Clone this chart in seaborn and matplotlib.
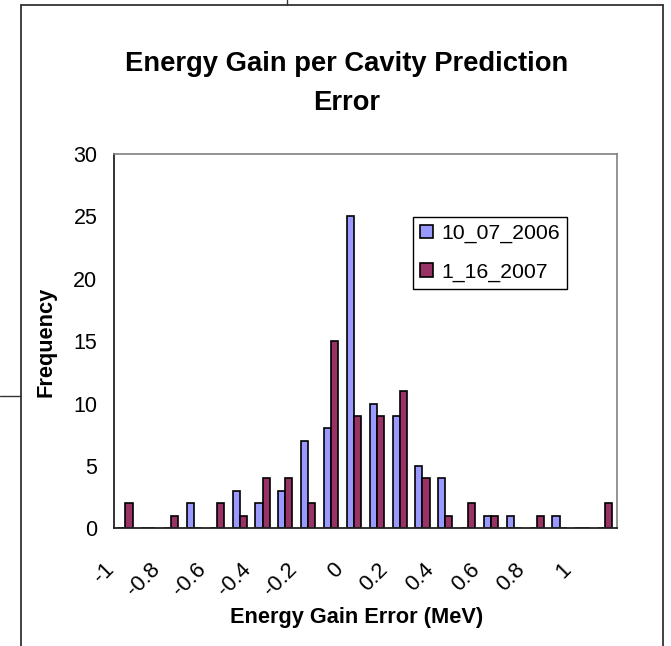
import matplotlib
matplotlib.use("Agg")
import matplotlib.pyplot as plt
from matplotlib.lines import Line2D
from matplotlib.transforms import ScaledTranslation
import seaborn as sns
import pandas as pd

# ---- data ----
bins = ["-1", "-0.9", "-0.8", "-0.7", "-0.6", "-0.5", "-0.4", "-0.3", "-0.2", "-0.1", "0",
        "0.1", "0.2", "0.3", "0.4", "0.5", "0.6", "0.7", "0.8", "0.9", "1", "1.1"]
series_a = [0, 0, 0, 2, 0, 3, 2, 3, 7, 8, 25, 10, 9, 5, 4, 0, 1, 1, 0, 1, 0, 0]
series_b = [2, 0, 1, 0, 2, 1, 4, 4, 2, 15, 9, 9, 11, 4, 1, 2, 1, 0, 1, 0, 0, 2]
series_names = ["10_07_2006", "1_16_2007"]
shown_labels = ["-1", "-0.8", "-0.6", "-0.4", "-0.2", "0", "0.2", "0.4", "0.6", "0.8", "1"]
colors = ["#9999FF", "#993366"]

df = pd.DataFrame({
    "bin": bins * 2,
    "count": series_a + series_b,
    "series": [series_names[0]] * len(bins) + [series_names[1]] * len(bins),
})

sns.set_style("white")
plt.rcParams["font.family"] = ["Liberation Sans", "DejaVu Sans"]
for k in ["text.color", "axes.labelcolor", "xtick.color", "ytick.color"]:
    plt.rcParams[k] = "black"

W, H = 671, 646
fig = plt.figure(figsize=(W / 100, H / 100), dpi=100)
L, R, T, B = 114, 616.7, 154, 528.3
ax = fig.add_axes([L / W, 1 - B / H, (R - L) / W, (B - T) / H])

sns.barplot(data=df, x="bin", y="count", hue="series", order=bins,
            hue_order=series_names, palette=colors, width=0.62,
            edgecolor="black", linewidth=1.2, ax=ax, legend=True, saturation=1)

ax.set_xlim(-0.5, len(bins) - 0.5)
ax.set_ylim(0, 30)
ax.set_yticks(range(0, 31, 5))
ax.tick_params(axis="y", direction="inout", length=10, width=1, color="black",
               labelcolor="black", labelsize=15.5, pad=7)

# x ticks: marks at category boundaries, labels every other category
ax.set_xticks([i - 0.5 for i in range(len(bins) + 1)], minor=True)
major_pos = [bins.index(s) for s in shown_labels]
ax.set_xticks(major_pos)
ax.set_xticklabels(shown_labels, rotation=45, ha="right", va="top",
                   fontsize=15.8, color="black")
ax.tick_params(axis="x", which="major", length=0, pad=22)
ax.tick_params(axis="x", which="minor", direction="inout", length=10, width=1,
               color="black")
offset = ScaledTranslation(-5 / 72, 0, fig.dpi_scale_trans)
for lab in ax.get_xticklabels():
    lab.set_transform(lab.get_transform() + offset)

for side in ["left", "bottom"]:
    ax.spines[side].set_color("#222222")
    ax.spines[side].set_linewidth(1.3)
for side in ["top", "right"]:
    ax.spines[side].set_color("#808080")
    ax.spines[side].set_linewidth(1.2)

ax.set_xlabel("")
ax.set_ylabel("")
fig.text(46 / W, 1 - 342 / H, "Frequency", rotation=90, ha="center", va="center",
         fontsize=15.7, fontweight="bold", color="black")
fig.text(356.5 / W, 1 - 618 / H, "Energy Gain Error (MeV)", ha="center", va="center",
         fontsize=15.7, fontweight="bold", color="black")

# title
fig.text(346.5 / W, 1 - 64 / H, "Energy Gain per Cavity Prediction", ha="center",
         va="center", fontsize=19.7, fontweight="bold", color="black")
fig.text(346.5 / W, 1 - 103 / H, "Error", ha="center", va="center",
         fontsize=19.7, fontweight="bold", color="black")

# legend
leg = ax.legend(loc="upper left", bbox_to_anchor=(412.7 / W, 1 - 216.7 / H),
                bbox_transform=fig.transFigure, fontsize=15.3, frameon=True,
                fancybox=False, shadow=False, borderpad=0.35, labelspacing=0.9,
                handlelength=0.6, handleheight=0.6, handletextpad=0.4,
                borderaxespad=0)
leg.get_frame().set_edgecolor("black")
leg.get_frame().set_linewidth(1.0)
leg.get_frame().set_alpha(1)
for t in leg.get_texts():
    t.set_color("black")

# outer chart frame (decoration)
lc = "#333333"
fig.add_artist(Line2D([21 / W, 21 / W], [0, 1 - 5 / H], transform=fig.transFigure, color=lc, lw=1.3))
fig.add_artist(Line2D([21 / W, 663 / W], [1 - 5 / H, 1 - 5 / H], transform=fig.transFigure, color=lc, lw=1.3))
fig.add_artist(Line2D([663 / W, 663 / W], [0, 1 - 5 / H], transform=fig.transFigure, color=lc, lw=1.3))
fig.add_artist(Line2D([287 / W, 287 / W], [1 - 5 / H, 1], transform=fig.transFigure, color=lc, lw=1.0))
fig.add_artist(Line2D([0, 21 / W], [1 - 396 / H, 1 - 396 / H], transform=fig.transFigure, color=lc, lw=1.0))

fig.savefig("out.png", dpi=100)
